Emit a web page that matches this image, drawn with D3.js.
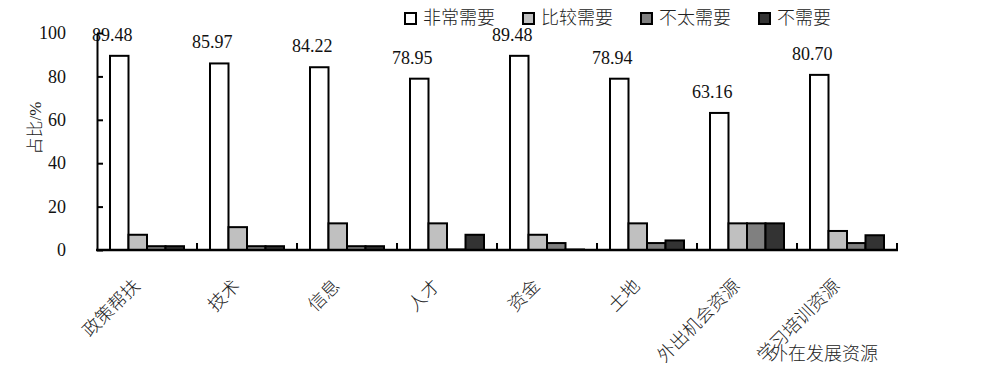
<!DOCTYPE html>
<html>
<head>
<meta charset="utf-8">
<script src="https://cdn.jsdelivr.net/npm/d3@7"></script>
<style>
  html, body { margin: 0; padding: 0; background: #fff; }
  svg { display: block; }
  text { font-family: "Liberation Serif", "Noto Sans CJK SC", serif; fill: #111; }
  text.cjk { font-weight: 300; fill: #222; }
</style>
</head>
<body>
<svg id="chart" width="1000" height="368"></svg>
<script>
const categories = ["政策帮扶", "技术", "信息", "人才", "资金", "土地", "外出机会资源", "学习培训资源"];
const seriesNames = ["非常需要", "比较需要", "不太需要", "不需要"];
const veryNeeded = [89.48, 85.97, 84.22, 78.95, 89.48, 78.94, 63.16, 80.70];
const ratherNeeded = [7.02, 10.53, 12.28, 12.28, 7.02, 12.28, 12.28, 8.77];
const notVeryNeeded = [1.75, 1.75, 1.75, 0, 3.2, 3.2, 12.28, 3.2];
const notNeeded = [1.75, 1.75, 1.75, 7.02, 0, 4.4, 12.28, 6.8];
const labelValues = ["89.48", "85.97", "84.22", "78.95", "89.48", "78.94", "63.16", "80.70"];
const yTicks = [0, 20, 40, 60, 80, 100];
const seriesColors = ["#ffffff", "#c0c0c0", "#808080", "#333333"];
const yTitle = "占比/%";
const xTitle = "外在发展资源";

const seriesValues = [veryNeeded, ratherNeeded, notVeryNeeded, notNeeded];
const rows = categories.map((c, i) => ({cat: c, vals: seriesNames.map((s, j) => ({s, v: seriesValues[j][i]}))}));

const svg = d3.select("#chart");
const mLeft = 97, mRight = 897, mTop = 33, mBottom = 250;

const x0 = d3.scaleBand().domain(categories).range([mLeft, mRight]).paddingInner(0.26).paddingOuter(0.13);
const x1 = d3.scaleBand().domain(seriesNames).range([0, x0.bandwidth()]);
const y = d3.scaleLinear().domain([0, 100]).range([mBottom, mTop]);
const color = d3.scaleOrdinal().domain(seriesNames).range(seriesColors);

// bars
const g = svg.append("g");
const groups = g.selectAll("g.grp").data(rows).join("g")
  .attr("transform", d => `translate(${x0(d.cat)},0)`);
groups.selectAll("rect").data(d => d.vals).join("rect")
  .attr("x", d => x1(d.s))
  .attr("y", d => Math.min(y(d.v), y(0) - 0.5))
  .attr("width", x1.bandwidth())
  .attr("height", d => Math.max(y(0) - y(d.v), 0.5))
  .attr("fill", d => color(d.s))
  .attr("stroke", "#000")
  .attr("stroke-width", 2);

// value labels
svg.append("g").selectAll("text").data(rows).join("text")
  .attr("x", (d, i) => x0(d.cat) + x1(seriesNames[0]) + x1.bandwidth() / 2 - 7)
  .attr("y", (d, i) => y(veryNeeded[i]) - 15)
  .attr("text-anchor", "middle")
  .attr("font-size", 18)
  .text((d, i) => labelValues[i]);

// y axis
const yAxis = d3.axisLeft(y).tickValues(yTicks).tickSizeInner(-6).tickSizeOuter(0).tickPadding(31);
const ya = svg.append("g").attr("transform", `translate(${mLeft},0)`).call(yAxis);
ya.select(".domain").attr("stroke", "#000").attr("stroke-width", 2);
ya.selectAll(".tick line").attr("stroke", "#000").attr("stroke-width", 2);
ya.selectAll(".tick text").attr("font-size", 18).attr("fill", "#111");

// x axis
const step = x0.step();
const xa = svg.append("g");
xa.append("line").attr("x1", mLeft - 1).attr("x2", mRight + 1).attr("y1", mBottom).attr("y2", mBottom)
  .attr("stroke", "#000").attr("stroke-width", 2.5);
xa.selectAll("line.tk").data(categories).join("line")
  .attr("class", "tk")
  .attr("x1", d => x0(d) - step * x0.paddingOuter() + step)
  .attr("x2", d => x0(d) - step * x0.paddingOuter() + step)
  .attr("y1", mBottom).attr("y2", mBottom - 7)
  .attr("stroke", "#000").attr("stroke-width", 2);
xa.selectAll("text.cl").data(categories).join("text")
  .attr("class", "cl cjk")
  .attr("font-size", 18)
  .attr("text-anchor", "end")
  .attr("transform", d => `translate(${x0(d) + x0.bandwidth() / 2 - 6},287) rotate(-45)`)
  .text(d => d);

// axis titles
svg.append("text")
  .attr("class", "cjk")
  .attr("transform", "translate(41,128) rotate(-90)")
  .attr("text-anchor", "middle")
  .attr("font-size", 17)
  .text(yTitle);
svg.append("text")
  .attr("class", "cjk")
  .attr("x", 824).attr("y", 360)
  .attr("text-anchor", "middle")
  .attr("font-size", 18)
  .text(xTitle);

// legend
const legend = svg.append("g");
const li = legend.selectAll("g").data(seriesNames).join("g")
  .attr("transform", (d, i) => `translate(${405 + i * 118},13)`);
li.append("rect").attr("x", 0).attr("y", 0).attr("width", 11).attr("height", 11)
  .attr("fill", d => color(d)).attr("stroke", "#000").attr("stroke-width", 2);
li.append("text").attr("class", "cjk").attr("x", 18).attr("y", 11).attr("font-size", 18).text(d => d);
</script>
</body>
</html>
